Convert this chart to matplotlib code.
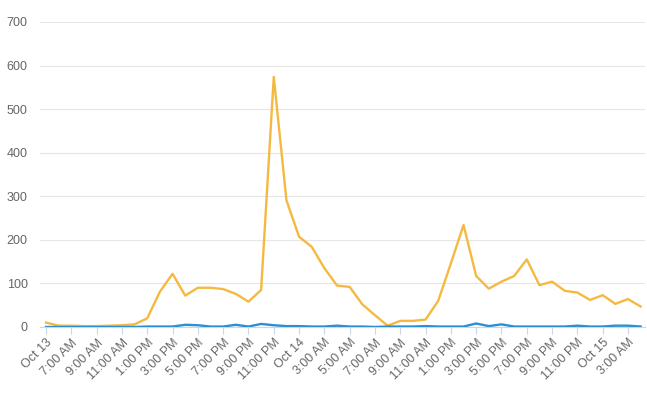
import matplotlib.pyplot as plt

# hourly values, Oct 13 -> Oct 15
orange = [10, 3, 3, 2, 2, 3, 4, 6, 20, 81, 122, 72, 90, 90, 87, 76, 58, 85,
          574, 291, 207, 184, 135, 95, 92, 52, 27, 3, 14, 14, 17, 60, 146, 234,
          117, 88, 104, 117, 155, 96, 104, 83, 79, 62, 73, 53, 64, 47]
blue = [0, 0, 0, 0, 0, 0, 0, 0, 1, 1, 1, 5, 4, 1, 1, 5, 1, 7,
        4, 2, 2, 1, 1, 3, 1, 1, 0, 1, 1, 1, 2, 1, 1, 1,
        8, 2, 6, 1, 1, 1, 1, 1, 3, 1, 1, 3, 3, 1]

tick_labels = ["Oct 13", "7:00 AM", "9:00 AM", "11:00 AM", "1:00 PM", "3:00 PM",
               "5:00 PM", "7:00 PM", "9:00 PM", "11:00 PM", "Oct 14", "3:00 AM",
               "5:00 AM", "7:00 AM", "9:00 AM", "11:00 AM", "1:00 PM", "3:00 PM",
               "5:00 PM", "7:00 PM", "9:00 PM", "11:00 PM", "Oct 15", "3:00 AM"]

plt.rcParams['font.family'] = ['Liberation Sans', 'DejaVu Sans']

fig = plt.figure(figsize=(6.47, 3.99), dpi=100)
ax = fig.add_axes([0.062, 0.1805, 0.935, 0.7645])

x = list(range(len(orange)))
ax.plot(x, orange, color='#f5b942', linewidth=1.7, zorder=3)
ax.plot(x, blue, color='#2a8fd4', linewidth=1.7, zorder=4)

ax.set_ylim(0, 700)
ax.set_xlim(-0.47, 47.35)
ax.set_yticks(range(0, 701, 100))
ax.set_xticks(range(0, 48, 2))
ax.set_xticklabels(tick_labels, rotation=45, ha='right', rotation_mode='anchor')

ax.grid(axis='y', color='#e6e6e6', linewidth=0.8)
ax.set_axisbelow(True)
for s in ['top', 'right', 'left']:
    ax.spines[s].set_visible(False)
ax.spines['bottom'].set_color('#ccd6eb')
ax.tick_params(axis='y', length=0, labelsize=9, labelcolor='#666666', pad=9)
ax.tick_params(axis='x', length=5, color='#ccd6eb', labelsize=9,
               labelcolor='#666666', pad=2)

fig.savefig('out.png', dpi=100)
